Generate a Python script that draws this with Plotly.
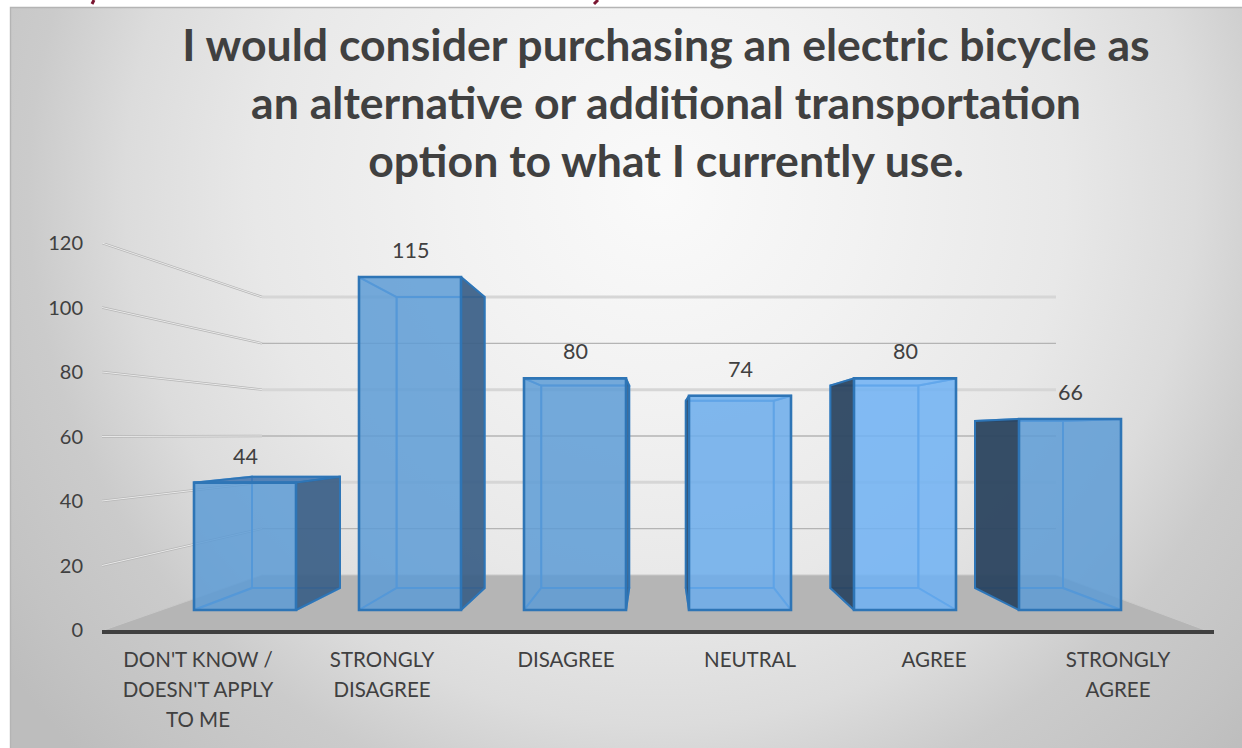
import base64
import plotly.graph_objects as go

# ---------- data ----------
categories = ["DON'T KNOW /<br>DOESN'T APPLY<br>TO ME", "STRONGLY<br>DISAGREE", "DISAGREE",
              "NEUTRAL", "AGREE", "STRONGLY<br>AGREE"]
responses = [44, 115, 80, 74, 80, 66]
y_ticks = [0, 20, 40, 60, 80, 100, 120]
title_lines = ["I would consider purchasing an electric bicycle as",
               "an alternative or additional transportation",
               "option to what I currently use."]

# ---------- layout geometry (page pixels) ----------
W, H = 1242, 748
L, R, T, B = 102, 1214, 243, 630
index = list(range(len(responses)))


def axis_range(origin, step, lo, hi):
    return [(lo - origin) / step, (hi - origin) / step]


# horizontal scales: category slots, front plane of the bars, back plane of the bars
XM = (198, 184)
XF = (245, 165)
XB = (296, 144.6)
# vertical scales: value axis, front plane, back plane, back wall
YM = (B, 3.225)
YF = (610, 2.895)
YB = (588, 2.53)
YW = (575, 2.317)
FRONT_W, BACK_W = 102, 88


def to_main_x(px):
    return (px - XM[0]) / XM[1]


def to_main_y(py):
    return (YM[0] - py) / YM[1]


def front_x(i, s):
    return to_main_x(XF[0] + XF[1] * i + s * FRONT_W / 2)


def back_x(i, s):
    return to_main_x(XB[0] + XB[1] * i + s * BACK_W / 2)


def front_y(v):
    return to_main_y(YF[0] - YF[1] * v)


def back_y(v):
    return to_main_y(YB[0] - YB[1] * v)


def wall_y(v):
    return to_main_y(YW[0] - YW[1] * v)


fig = go.Figure()

# ---------- back wall gridlines and floor ----------
corner_x = to_main_x(262)
end_x = to_main_x(1056)
left_x = to_main_x(L)
for n, v in enumerate(y_ticks):
    if v == 0:
        continue
    thin = n % 2 == 1
    fig.add_trace(go.Scatter(x=[left_x, corner_x], y=[v, wall_y(v)], mode="lines", showlegend=False, hoverinfo="skip",
                             line=dict(color="#b6b6b6", width=2.4)))
    fig.add_trace(go.Scatter(x=[left_x, corner_x], y=[v, wall_y(v)], mode="lines", showlegend=False, hoverinfo="skip",
                             line=dict(color="#e9e9e9", width=1)))
    fig.add_trace(go.Scatter(x=[corner_x, end_x], y=[wall_y(v), wall_y(v)], mode="lines", showlegend=False,
                             hoverinfo="skip",
                             line=dict(color="#b4b4b4" if thin else "#d6d6d6", width=1.3 if thin else 3)))

fig.add_trace(go.Scatter(x=[to_main_x(L + 2), corner_x, end_x, to_main_x(1205)],
                         y=[0, wall_y(0), wall_y(0), 0], fill="toself", mode="lines",
                         fillcolor="#b5b5b5", line=dict(color="#c9c9c9", width=1),
                         showlegend=False, hoverinfo="skip"))

# ---------- back planes of the bars ----------
EDGE = "#2E75B6"
INNER = "rgba(70,145,220,0.75)"
front_fill = ["rgba(91,155,213,0.6)", "rgba(91,155,213,0.6)", "rgba(91,155,213,0.6)",
              "rgba(108,172,236,0.62)", "rgba(112,178,244,0.62)", "rgba(91,155,213,0.6)"]
fig.add_trace(go.Bar(x=index, y=responses, width=BACK_W / XB[1], xaxis="x2", yaxis="y2",
                     marker=dict(color=front_fill, line=dict(color=INNER, width=2)),
                     showlegend=False, hoverinfo="skip"))

# ---------- side, top and bottom faces ----------
for i, v in enumerate(responses):
    outer = 1 if i < 3 else -1
    # inner side (seen through the front)
    fig.add_trace(go.Scatter(
        x=[front_x(i, -outer), back_x(i, -outer), back_x(i, -outer), front_x(i, -outer), front_x(i, -outer)],
        y=[front_y(0), back_y(0), back_y(v), front_y(v), front_y(0)],
        mode="lines", fill="toself", fillcolor=front_fill[i], line=dict(color=INNER, width=2),
        xaxis="x3", yaxis="y3", showlegend=False, hoverinfo="skip"))
    # bottom
    fig.add_trace(go.Scatter(
        x=[front_x(i, 1), back_x(i, 1), back_x(i, -1), front_x(i, -1), front_x(i, 1)],
        y=[front_y(0), back_y(0), back_y(0), front_y(0), front_y(0)],
        mode="lines", fill="toself", fillcolor=front_fill[i], line=dict(color=INNER, width=2),
        xaxis="x3", yaxis="y3", showlegend=False, hoverinfo="skip"))
    # top
    raised = back_y(v) > front_y(v)
    fig.add_trace(go.Scatter(
        x=[front_x(i, -1), front_x(i, 1), back_x(i, 1), back_x(i, -1), front_x(i, -1)],
        y=[front_y(v), front_y(v), back_y(v), back_y(v), front_y(v)],
        mode="lines", fill="toself", fillcolor="rgba(60,110,170,0.7)" if raised else front_fill[i],
        line=dict(color=EDGE if raised else INNER, width=2),
        xaxis="x3", yaxis="y3", showlegend=False, hoverinfo="skip"))
    # outer side
    fig.add_trace(go.Scatter(
        x=[front_x(i, outer), back_x(i, outer), back_x(i, outer), front_x(i, outer), front_x(i, outer)],
        y=[front_y(0), back_y(0), back_y(v), front_y(v), front_y(0)],
        mode="lines", fill="toself",
        fillcolor="rgba(55,88,125,0.82)" if outer == 1 else "rgba(40,62,85,0.88)",
        line=dict(color=EDGE, width=2), xaxis="x3", yaxis="y3",
        showlegend=False, hoverinfo="skip"))

# ---------- front planes of the bars ----------
fig.add_trace(go.Bar(x=index, y=responses, width=FRONT_W / XF[1], xaxis="x4", yaxis="y4",
                     marker=dict(color=front_fill, line=dict(color=EDGE, width=2.6)),
                     showlegend=False, hovertemplate="%{y}<extra></extra>"))

# ---------- background panel ----------
svg = f"""<svg xmlns='http://www.w3.org/2000/svg' width='{W}' height='{H}' viewBox='0 0 {W} {H}'>
<defs><radialGradient id='g' gradientUnits='userSpaceOnUse' cx='660' cy='190' r='810'>
<stop offset='0' stop-color='#fafafa'/><stop offset='0.25' stop-color='#f2f2f2'/>
<stop offset='0.5' stop-color='#e8e8e8'/><stop offset='0.66' stop-color='#dcdcdc'/>
<stop offset='0.78' stop-color='#cbcbcb'/><stop offset='0.92' stop-color='#c3c3c3'/>
<stop offset='1' stop-color='#bdbdbd'/></radialGradient></defs>
<rect width='{W}' height='{H}' fill='#ffffff'/>
<rect x='10' y='7' width='{W}' height='{H}' fill='url(#g)'/>
<path d='M10.5 {H} V7.5 H{W}' fill='none' stroke='#b4b4b4' stroke-width='1.4'/>
<path d='M94 0 L92 4 M598 0 L594 4' stroke='#7a1530' stroke-width='3' fill='none'/>
</svg>"""
href = "data:image/svg+xml;base64," + base64.b64encode(svg.encode()).decode()
plot_w, plot_h = R - L, B - T
fig.add_layout_image(dict(source=href, xref="paper", yref="paper", x=-L / plot_w, y=(B) / plot_h,
                          sizex=W / plot_w, sizey=H / plot_h, xanchor="left", yanchor="top",
                          sizing="stretch", layer="below"))

# ---------- text ----------
TEXT = "#404040"
FONT = "Lato"
LABEL_SIZE = 20.5
LINE_GAP = 30 / 1.3

annotations = [dict(x=i, y=v, xref="x4", yref="y4", text=str(v), showarrow=False, yanchor="middle",
                    yshift=27, font=dict(family=FONT, size=21.5, color=TEXT))
               for i, v in enumerate(responses)]

tick_text = ["<br>".join(f"<span style='font-size:{LABEL_SIZE}px'>{part}</span>" for part in c.split("<br>"))
             for c in categories]

hidden = dict(visible=False, fixedrange=True)
fig.update_layout(
    width=W, height=H, margin=dict(l=L, r=W - R, t=T, b=H - B, autoexpand=False),
    paper_bgcolor="rgba(0,0,0,0)", plot_bgcolor="rgba(0,0,0,0)",
    barmode="overlay", showlegend=False, annotations=annotations,
    font=dict(family=FONT, color=TEXT),
    title=dict(text="<br>".join(title_lines), x=666 / W, xref="container", xanchor="center",
               y=1 - 61 / H, yref="container", yanchor="top",
               font=dict(family=FONT, size=44.6, color=TEXT, weight="bold")),
    xaxis=dict(range=axis_range(*XM, L, R), tickvals=index, ticktext=tick_text, showgrid=False, zeroline=False,
               showline=True, linecolor="#404040", linewidth=4, ticks="", ticklabelstandoff=5,
               tickfont=dict(family=FONT, size=LINE_GAP, color=TEXT), fixedrange=True),
    yaxis=dict(range=[0, 120], tickvals=y_ticks, showgrid=False, zeroline=False, showline=False, ticks="",
               ticklabelstandoff=18, tickfont=dict(family=FONT, size=20, color=TEXT), fixedrange=True),
    xaxis2=dict(range=axis_range(*XB, L, R), overlaying="x", **hidden),
    yaxis2=dict(range=[(YB[0] - B) / YB[1], (YB[0] - T) / YB[1]], overlaying="y", **hidden),
    xaxis3=dict(range=axis_range(*XM, L, R), overlaying="x", **hidden),
    yaxis3=dict(range=[0, 120], overlaying="y", **hidden),
    xaxis4=dict(range=axis_range(*XF, L, R), overlaying="x", **hidden),
    yaxis4=dict(range=[(YF[0] - B) / YF[1], (YF[0] - T) / YF[1]], overlaying="y", **hidden),
)

fig.write_html("out.html", config={"displayModeBar": False},
               post_script="document.body.style.margin='0';document.documentElement.style.overflow='hidden';")
